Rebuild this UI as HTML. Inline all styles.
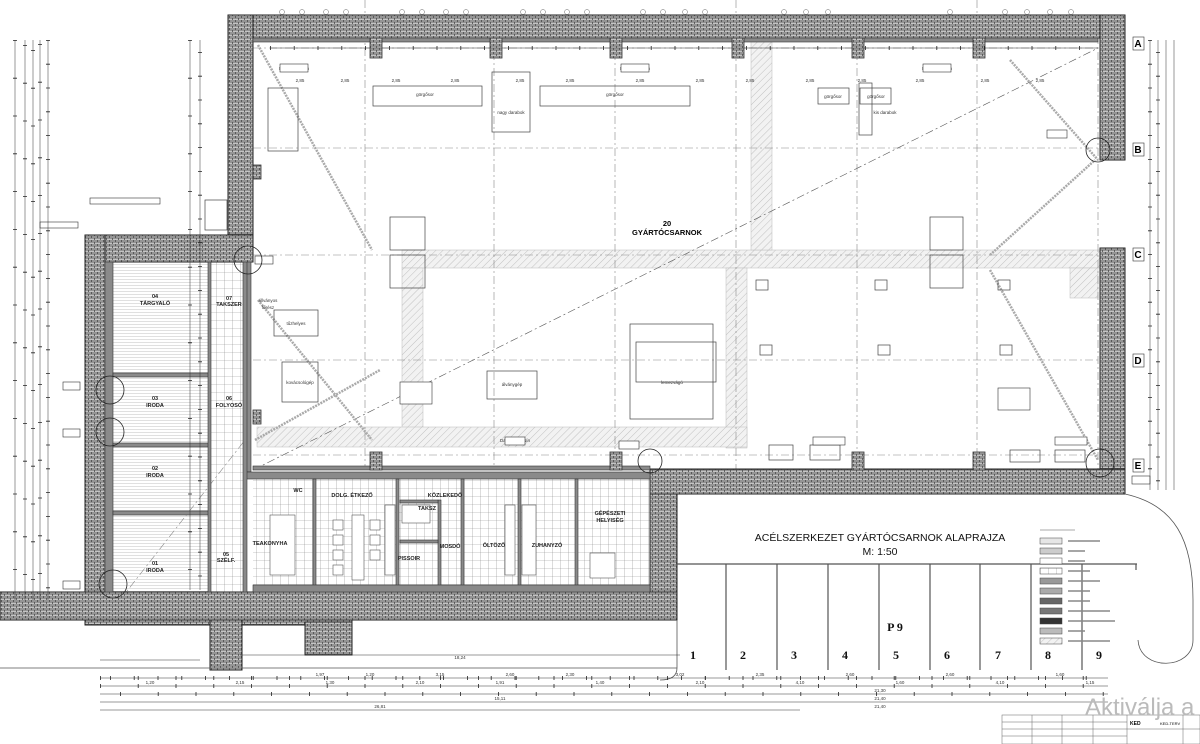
<!DOCTYPE html>
<html><head><meta charset="utf-8"><style>
html,body{margin:0;padding:0;background:#fff;}
svg{display:block;font-family:"Liberation Sans",sans-serif;}
</style></head><body>
<svg width="1200" height="744" viewBox="0 0 1200 744" xmlns="http://www.w3.org/2000/svg">
<defs>
<pattern id="brick" width="6" height="4" patternUnits="userSpaceOnUse">
<rect width="6" height="4" fill="#c4c4c4"/>
<path d="M0 0H6M0 2H6M1.5 0V2M4.5 2V4" stroke="#444" stroke-width="0.75"/>
</pattern>
<pattern id="diag" width="5" height="5" patternUnits="userSpaceOnUse" patternTransform="rotate(45)">
<rect width="5" height="5" fill="#f2f2f2"/><path d="M0 0V5" stroke="#b5b5b5" stroke-width="0.8"/>
</pattern>
<pattern id="tile" width="8" height="8" patternUnits="userSpaceOnUse">
<rect width="8" height="8" fill="#fff"/><path d="M0 0H8M0 0V8" stroke="#8a8a8a" stroke-width="0.6"/>
</pattern>
<pattern id="board" width="6" height="3" patternUnits="userSpaceOnUse">
<rect width="6" height="3" fill="#fff"/><path d="M0 0H6" stroke="#999" stroke-width="0.6"/>
</pattern>
</defs>

<rect x="113" y="262" width="97" height="330" fill="url(#board)"/>
<rect x="210" y="262" width="35" height="330" fill="url(#tile)"/>
<rect x="253" y="479" width="397" height="113" fill="url(#tile)"/>

<g fill="url(#diag)" stroke="#bbb" stroke-width="0.5">
<rect x="402" y="250" width="698" height="18"/>
<rect x="751" y="40" width="21" height="210"/>
<rect x="402" y="268" width="21" height="160"/>
<rect x="726" y="268" width="21" height="180"/>
<rect x="257" y="427" width="490" height="20"/>
<rect x="1070" y="268" width="28" height="30"/>
</g>

<g stroke="#888" stroke-width="0.6" stroke-dasharray="8 3 2 3" fill="none">
<path d="M365 0V470M494 20V470M615 20V470M736 0V470M857 20V470M977 0V470M1098 20V470"/>
<path d="M253 148H1098M253 255H1098M253 360H1098M253 455H1098M253 48H1098"/>
<path d="M253 470L1098 48" stroke="#555"/>
<path d="M120 600L245 440"/>
</g>
<g stroke="#aaa" stroke-width="2.5" fill="none" stroke-dasharray="2 1">
<path d="M258 45L372 250M258 300L372 440M1010 60L1098 160M990 255L1095 160M990 270L1098 460M255 440L380 370"/>
</g>

<g fill="url(#brick)" stroke="#222" stroke-width="1">
<rect x="228" y="15" width="897" height="23"/>
<rect x="228" y="15" width="25" height="247"/>
<rect x="1100" y="15" width="25" height="145"/>
<rect x="1100" y="248" width="25" height="246"/>
<rect x="650" y="469" width="475" height="25"/>
<rect x="85" y="235" width="168" height="27"/>
<rect x="85" y="235" width="20" height="360"/>
<rect x="0" y="592" width="677" height="28"/>
<rect x="650" y="494" width="27" height="98"/>
<rect x="85" y="620" width="267" height="5"/>
<rect x="210" y="620" width="32" height="50"/>
<rect x="305" y="622" width="47" height="33"/>
</g>
<g fill="#8a8a8a" stroke="#333" stroke-width="0.6">
<rect x="105" y="262" width="8" height="330"/>
<rect x="245" y="262" width="6" height="210"/>
<rect x="253" y="38" width="845" height="4"/>
<rect x="253" y="466" width="397" height="4"/>
<rect x="245" y="472" width="405" height="7"/>
<rect x="113" y="373" width="97" height="4"/>
<rect x="113" y="443" width="97" height="4"/>
<rect x="113" y="511" width="97" height="4"/>
<rect x="208" y="262" width="3" height="330"/>
<rect x="243" y="262" width="4" height="330"/>
<rect x="313" y="479" width="3" height="113"/>
<rect x="396" y="479" width="3" height="113"/>
<rect x="438" y="500" width="3" height="92"/>
<rect x="461" y="479" width="3" height="113"/>
<rect x="518" y="479" width="3" height="113"/>
<rect x="575" y="479" width="3" height="113"/>
<rect x="253" y="585" width="397" height="7"/>
<rect x="400" y="500" width="38" height="3"/>
<rect x="400" y="540" width="38" height="3"/>
</g>
<g fill="#fff" stroke="#555" stroke-width="0.6">
<rect x="270" y="515" width="25" height="60"/><rect x="352" y="515" width="12" height="65"/>
<rect x="333" y="520" width="10" height="10"/><rect x="333" y="535" width="10" height="10"/><rect x="333" y="550" width="10" height="10"/><rect x="333" y="565" width="10" height="10"/>
<rect x="370" y="520" width="10" height="10"/><rect x="370" y="535" width="10" height="10"/><rect x="370" y="550" width="10" height="10"/>
<rect x="385" y="505" width="10" height="70"/><rect x="590" y="553" width="25" height="25"/>
<rect x="505" y="505" width="10" height="70"/><rect x="522" y="505" width="14" height="70"/>
<rect x="402" y="505" width="28" height="18"/>
</g>
<g fill="url(#brick)" stroke="#333" stroke-width="0.8">
<rect x="370" y="38" width="12" height="20"/><rect x="490" y="38" width="12" height="20"/><rect x="610" y="38" width="12" height="20"/><rect x="732" y="38" width="12" height="20"/><rect x="852" y="38" width="12" height="20"/><rect x="973" y="38" width="12" height="20"/>
<rect x="370" y="452" width="12" height="18"/><rect x="610" y="452" width="12" height="18"/><rect x="852" y="452" width="12" height="18"/><rect x="973" y="452" width="12" height="18"/>
<rect x="253" y="165" width="8" height="14"/><rect x="253" y="410" width="8" height="14"/>
</g>

<g fill="none" stroke="#444" stroke-width="0.7">
<rect x="268" y="88" width="30" height="63"/>
<rect x="373" y="86" width="109" height="20"/>
<rect x="492" y="72" width="38" height="60"/>
<rect x="540" y="86" width="150" height="20"/>
<rect x="818" y="88" width="31" height="16"/>
<rect x="860" y="88" width="31" height="16"/>
<rect x="859" y="83" width="13" height="52"/>
<rect x="274" y="310" width="44" height="26"/>
<rect x="282" y="362" width="36" height="40"/>
<rect x="487" y="371" width="50" height="28"/>
<rect x="630" y="324" width="83" height="95"/>
<rect x="636" y="342" width="80" height="40"/>
<rect x="390" y="217" width="35" height="33"/><rect x="390" y="255" width="35" height="33"/>
<rect x="930" y="217" width="33" height="33"/><rect x="930" y="255" width="33" height="33"/>
<rect x="769" y="445" width="24" height="15"/><rect x="810" y="445" width="30" height="15"/><rect x="1010" y="450" width="30" height="12"/><rect x="1055" y="450" width="30" height="12"/>
<rect x="205" y="200" width="22" height="30"/>
<rect x="756" y="280" width="12" height="10"/><rect x="875" y="280" width="12" height="10"/><rect x="998" y="280" width="12" height="10"/>
<rect x="760" y="345" width="12" height="10"/><rect x="878" y="345" width="12" height="10"/><rect x="1000" y="345" width="12" height="10"/>
</g>

<g stroke="#555" stroke-width="1.2" fill="none">
<path d="M677 564H1137"/>
<path d="M726 564V670M777 564V670M828 564V670M879 564V670M930 564V670M980 564V670M1031 564V670M1082 564V670M1136 564V570"/>
<path d="M0 668H677" stroke-width="0.8"/>
<path d="M1125 494C1175 505 1193 540 1193 600L1193 640C1193 670 1140 672 1138 640" stroke-width="0.8"/>
<path d="M677 620V668Q677 680 660 680" stroke-width="0.8"/>
</g>
<g font-weight="bold" font-size="12" font-family="Liberation Serif,serif" text-anchor="middle" fill="#111">
<text x="693" y="659">1</text><text x="743" y="659">2</text><text x="794" y="659">3</text><text x="845" y="659">4</text><text x="896" y="659">5</text><text x="947" y="659">6</text><text x="998" y="659">7</text><text x="1048" y="659">8</text><text x="1099" y="659">9</text>
<text x="895" y="631">P 9</text>
</g>

<text x="880" y="541" font-size="10.5" text-anchor="middle" fill="#111">ACÉLSZERKEZET GYÁRTÓCSARNOK ALAPRAJZA</text>
<text x="880" y="555" font-size="10.5" text-anchor="middle" fill="#111">M: 1:50</text>
<text x="667" y="226" font-size="7.5" font-weight="bold" text-anchor="middle">20</text>
<text x="667" y="235" font-size="7.5" font-weight="bold" text-anchor="middle">GYÁRTÓCSARNOK</text>
<g font-size="5.5" font-weight="bold" text-anchor="middle" fill="#222">
<text x="155" y="298">04</text><text x="155" y="305">TÁRGYALÓ</text>
<text x="229" y="300">07</text><text x="229" y="306">TAKSZER</text>
<text x="155" y="400">03</text><text x="155" y="407">IRODA</text>
<text x="229" y="400">06</text><text x="229" y="407">FOLYOSÓ</text>
<text x="155" y="470">02</text><text x="155" y="477">IRODA</text>
<text x="155" y="565">01</text><text x="155" y="572">IRODA</text>
<text x="226" y="556">05</text><text x="226" y="562">SZÉLF.</text>
<text x="270" y="545">TEAKONYHA</text>
<text x="298" y="492">WC</text>
<text x="352" y="497">DOLG. ÉTKEZŐ</text>
<text x="445" y="497">KÖZLEKEDŐ</text>
<text x="427" y="510">TAKSZ</text>
<text x="450" y="548">MOSDÓ</text>
<text x="409" y="560">PISSOIR</text>
<text x="494" y="547">ÖLTÖZŐ</text>
<text x="547" y="547">ZUHANYZÓ</text>
<text x="610" y="515">GÉPÉSZETI</text><text x="610" y="522">HELYISÉG</text>
</g>
<g font-size="4.5" fill="#333" text-anchor="middle">
<text x="425" y="96">görgősor</text><text x="615" y="96">görgősor</text><text x="511" y="114">nagy darabok</text>
<text x="833" y="98">görgősor</text><text x="876" y="98">görgősor</text><text x="885" y="114">kis darabok</text>
<text x="296" y="325">tűzhelyes</text><text x="300" y="384">kovácsológép</text><text x="512" y="386">álványgép</text><text x="672" y="384">lemezvágó</text>
<text x="268" y="302">állványos</text><text x="268" y="309">fűrész</text>
<text x="294" y="70">Daruzpálya sín</text>
<text x="635" y="70">Daruzpálya sín</text><text x="937" y="70">Daruzpálya sín</text>
<text x="515" y="442">Daruzpálya sín</text><text x="829" y="443">Daruzpálya sín</text><text x="1071" y="443">Daruzpálya sín</text>
<text x="396" y="82">2,85</text><text x="455" y="82">2,85</text><text x="520" y="82">2,85</text><text x="570" y="82">2,85</text><text x="640" y="82">2,85</text><text x="700" y="82">2,85</text><text x="750" y="82">2,85</text><text x="810" y="82">2,85</text><text x="862" y="82">2,85</text><text x="920" y="82">2,85</text><text x="985" y="82">2,85</text><text x="1040" y="82">2,85</text>
<text x="300" y="82">2,85</text><text x="345" y="82">2,85</text>
</g>
<g fill="#fff" stroke="#333" stroke-width="0.6">
<rect x="280" y="64" width="28" height="8"/><rect x="621" y="64" width="28" height="8"/><rect x="923" y="64" width="28" height="8"/>
<rect x="255" y="256" width="18" height="8"/><rect x="1047" y="130" width="20" height="8"/>
<rect x="63" y="382" width="17" height="8"/><rect x="63" y="429" width="17" height="8"/><rect x="63" y="581" width="17" height="8"/>
<rect x="619" y="441" width="20" height="8"/><rect x="1132" y="476" width="18" height="8"/>
<rect x="505" y="437" width="20" height="8"/><rect x="813" y="437" width="32" height="8"/><rect x="1055" y="437" width="32" height="8"/>
<rect x="400" y="382" width="32" height="22"/><rect x="998" y="388" width="32" height="22"/>
<rect x="40" y="222" width="38" height="6"/><rect x="90" y="198" width="70" height="6"/>
</g>
<g font-size="10" font-weight="bold" text-anchor="middle">
<rect x="1133" y="37" width="11" height="13" fill="#fff" stroke="#333" stroke-width="0.6"/><text x="1138" y="47">A</text>
<rect x="1133" y="143" width="11" height="13" fill="#fff" stroke="#333" stroke-width="0.6"/><text x="1138" y="153">B</text>
<rect x="1133" y="248" width="11" height="13" fill="#fff" stroke="#333" stroke-width="0.6"/><text x="1138" y="258">C</text>
<rect x="1133" y="354" width="11" height="13" fill="#fff" stroke="#333" stroke-width="0.6"/><text x="1138" y="364">D</text>
<rect x="1133" y="459" width="11" height="13" fill="#fff" stroke="#333" stroke-width="0.6"/><text x="1138" y="469">E</text>
</g>
<g fill="none" stroke="#222" stroke-width="0.8">
<circle cx="248" cy="260" r="14"/><circle cx="110" cy="390" r="14"/><circle cx="110" cy="432" r="14"/><circle cx="113" cy="584" r="14"/>
<circle cx="1098" cy="150" r="12"/><circle cx="1100" cy="463" r="14"/><circle cx="650" cy="461" r="12"/>
</g>
<g fill="none" stroke="#666" stroke-width="0.5">
<circle cx="282" cy="12" r="2.5"/><circle cx="302" cy="12" r="2.5"/><circle cx="326" cy="12" r="2.5"/><circle cx="346" cy="12" r="2.5"/><circle cx="402" cy="12" r="2.5"/><circle cx="422" cy="12" r="2.5"/><circle cx="446" cy="12" r="2.5"/><circle cx="466" cy="12" r="2.5"/><circle cx="523" cy="12" r="2.5"/><circle cx="543" cy="12" r="2.5"/><circle cx="567" cy="12" r="2.5"/><circle cx="587" cy="12" r="2.5"/><circle cx="643" cy="12" r="2.5"/><circle cx="663" cy="12" r="2.5"/><circle cx="685" cy="12" r="2.5"/><circle cx="705" cy="12" r="2.5"/><circle cx="784" cy="12" r="2.5"/><circle cx="806" cy="12" r="2.5"/><circle cx="828" cy="12" r="2.5"/><circle cx="950" cy="12" r="2.5"/><circle cx="1005" cy="12" r="2.5"/><circle cx="1027" cy="12" r="2.5"/><circle cx="1050" cy="12" r="2.5"/><circle cx="1071" cy="12" r="2.5"/>
</g>
<g stroke="#333" stroke-width="0.5" fill="none">
<path d="M100 678H1108M100 686H1108M100 694H1108M100 702H1108M100 710H800"/>
<path d="M15 40V600M25 40V600M33 40V600M40 40V600M48 40V600M190 40V590M200 40V590"/>
<path d="M1150 40V490M1158 40V490M1166 40V490M1174 40V490"/>
<path d="M270 48H1098M240 655H680M100 660H200"/>
</g>
<g stroke="#222" stroke-width="4" fill="none" stroke-dasharray="0.8 37">
<path d="M15 40V600M25 45V600M33 50V600M40 44V600M190 40V590"/>
<path d="M100 678H1108M100 686H1108M120 694H1108"/>
</g>
<g stroke="#222" stroke-width="4" fill="none" stroke-dasharray="0.8 23">
<path d="M48 40V600M200 52V590M1150 40V490M1158 52V490"/>
<path d="M110 678H1108M270 48H1098"/>
</g>
<g font-size="4.5" fill="#333" text-anchor="middle">
<text x="320" y="676">1,97</text><text x="370" y="676">1,20</text><text x="440" y="676">3,15</text><text x="510" y="676">2,60</text><text x="570" y="676">2,30</text><text x="680" y="676">3,02</text><text x="760" y="676">2,35</text><text x="850" y="676">2,60</text><text x="950" y="676">2,60</text><text x="1060" y="676">1,60</text>
<text x="150" y="684">1,20</text><text x="240" y="684">2,15</text><text x="330" y="684">1,30</text><text x="420" y="684">2,10</text><text x="500" y="684">1,91</text><text x="600" y="684">1,40</text><text x="700" y="684">2,10</text><text x="800" y="684">4,10</text><text x="900" y="684">1,60</text><text x="1000" y="684">4,10</text><text x="1090" y="684">1,15</text>
<text x="500" y="700">15,11</text><text x="880" y="692">21,30</text><text x="880" y="700">21,40</text><text x="880" y="708">21,40</text><text x="380" y="708">26,81</text><text x="460" y="659">18,24</text>
</g>
<g stroke="#444" stroke-width="0.5">
<rect x="1040" y="538" width="22" height="6" fill="#e6e6e6"/>
<rect x="1040" y="548" width="22" height="6" fill="#ccc"/>
<rect x="1040" y="558" width="22" height="6" fill="#fff"/>
<rect x="1040" y="568" width="22" height="6" fill="url(#tile)"/>
<rect x="1040" y="578" width="22" height="6" fill="#999"/>
<rect x="1040" y="588" width="22" height="6" fill="#aaa"/>
<rect x="1040" y="598" width="22" height="6" fill="#666"/>
<rect x="1040" y="608" width="22" height="6" fill="#777"/>
<rect x="1040" y="618" width="22" height="6" fill="#333"/>
<rect x="1040" y="628" width="22" height="6" fill="#bbb"/>
<rect x="1040" y="638" width="22" height="6" fill="url(#diag)"/>
<path d="M1068 541H1100M1068 551H1085M1068 561H1085M1068 571H1090M1068 581H1100M1068 591H1090M1068 601H1090M1068 611H1110M1068 621H1115M1068 631H1085M1068 641H1110" stroke="#888" stroke-width="1.5"/>
<path d="M1040 530H1075" stroke="#555"/>
</g>
<g stroke="#666" stroke-width="0.5" fill="#fff">
<rect x="1002" y="715" width="198" height="29"/>
<path d="M1032 715V744M1062 715V744M1093 715V744M1127 715V744M1183 715V744M1002 722H1127M1002 729H1127M1002 736H1127M1127 729H1200" fill="none"/>
</g>
<text x="1130" y="725" font-size="5" font-weight="bold">KED</text>
<text x="1160" y="725" font-size="4">KED-TERV</text>
<text x="1085" y="715" font-size="24" fill="#bbb">Aktiválja a W</text>
</svg>
</body></html>
